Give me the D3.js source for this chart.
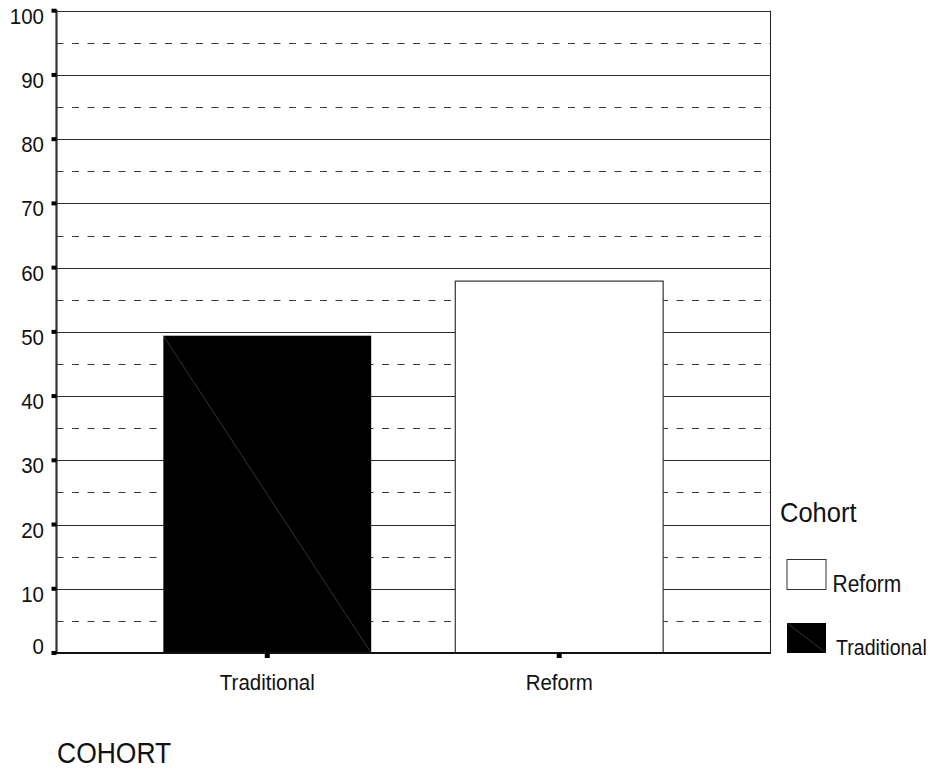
<!DOCTYPE html>
<html>
<head>
<meta charset="utf-8">
<script src="https://cdn.jsdelivr.net/npm/d3@7"></script>
<style>
  html, body { margin: 0; padding: 0; background: #fff; }
  svg { display: block; font-family: "Liberation Sans", Arial, sans-serif; }
</style>
</head>
<body>
<svg id="chart" width="934" height="770"></svg>
<script>
// ---- data ----
const categories = ["Traditional", "Reform"];
const values = [49.4, 57.9];
const majorTicks = [0, 10, 20, 30, 40, 50, 60, 70, 80, 90, 100];
const minorTicks = [5, 15, 25, 35, 45, 55, 65, 75, 85, 95];
const legendItems = ["Reform", "Traditional"];
const legendTitle = "Cohort";
const xTitle = "COHORT";

(function () {
// ---- layout ----
const svg = d3.select("#chart");
const pLeft = 56.5, pRight = 770, pTop = 10.7, pBottom = 653;

const y = d3.scaleLinear().domain([0, 100]).range([pBottom, pTop]);
const x = d3.scaleBand().domain(categories).range([pLeft, pRight])
  .paddingInner(0.288).paddingOuter(0.366);

const fill = d3.scaleOrdinal().domain(["Traditional", "Reform"]).range(["#000000", "#ffffff"]);

// dashed minor gridlines
svg.append("g").selectAll("line").data(minorTicks).join("line")
  .attr("x1", pLeft).attr("x2", pRight)
  .attr("y1", d => Math.round(y(d)) + 0.5).attr("y2", d => Math.round(y(d)) + 0.5)
  .attr("stroke", "#3a3a3a").attr("stroke-width", 1).attr("stroke-dasharray", "7,8.5");

// solid major gridlines
svg.append("g").selectAll("line").data(majorTicks.filter(d => d > 0)).join("line")
  .attr("x1", pLeft).attr("x2", pRight)
  .attr("y1", d => Math.round(y(d)) + 0.5).attr("y2", d => Math.round(y(d)) + 0.5)
  .attr("stroke", "#2a2a2a").attr("stroke-width", 1);

// right border
svg.append("line").attr("x1", pRight + 0.5).attr("x2", pRight + 0.5)
  .attr("y1", y(100)).attr("y2", y(0)).attr("stroke", "#222").attr("stroke-width", 1);

// bars
const bars = svg.append("g");
categories.forEach((c, i) => {
  const bx = x(c), bw = x.bandwidth(), by = y(values[i]), bh = y(0) - y(values[i]);
  bars.append("rect")
    .attr("x", bx).attr("y", by).attr("width", bw).attr("height", bh)
    .attr("fill", fill(c))
    .attr("stroke", c === "Reform" ? "#333" : "none").attr("stroke-width", 1.2);
  if (c === "Traditional") {
    bars.append("line")
      .attr("x1", bx).attr("y1", by).attr("x2", bx + bw).attr("y2", by + bh)
      .attr("stroke", "#555").attr("stroke-width", 0.6);
  }
});

// left axis line
svg.append("line").attr("x1", pLeft).attr("x2", pLeft)
  .attr("y1", y(100) - 1).attr("y2", y(0) + 1)
  .attr("stroke", "#333").attr("stroke-width", 2.2);
// bottom axis line
svg.append("line").attr("x1", pLeft).attr("x2", pRight + 1)
  .attr("y1", y(0)).attr("y2", y(0))
  .attr("stroke", "#111").attr("stroke-width", 2);

// y ticks (small squares)
svg.append("g").selectAll("rect").data(majorTicks).join("rect")
  .attr("x", pLeft - 5).attr("y", d => y(d) - 2).attr("width", 5).attr("height", 4)
  .attr("fill", "#000");

// y tick labels
svg.append("g").selectAll("text").data(majorTicks).join("text")
  .attr("transform", d => `translate(44,${Math.min(y(d) + 13, y(0) + 1)}) scale(1,1.12)`)
  .attr("text-anchor", "end").attr("font-size", 20.5).attr("fill", "#111")
  .text(d => d);

// x ticks
svg.append("g").selectAll("rect").data(categories).join("rect")
  .attr("x", d => x(d) + x.bandwidth() / 2 - 2.5).attr("y", y(0))
  .attr("width", 5).attr("height", 5).attr("fill", "#000");

// x tick labels
svg.append("g").selectAll("text").data(categories).join("text")
  .attr("transform", d => `translate(${x(d) + x.bandwidth() / 2},${y(0) + 36.5}) scale(1,1.12)`)
  .attr("text-anchor", "middle").attr("font-size", 20.5).attr("fill", "#111")
  .text(d => d);

// x title
svg.append("text")
  .attr("transform", "translate(57,763) scale(1,1.12)")
  .attr("font-size", 26.5).attr("fill", "#111").text(xTitle);

// legend
svg.append("text")
  .attr("transform", "translate(780,521.7) scale(1,1.1)")
  .attr("font-size", 25.5).attr("fill", "#111").text(legendTitle);

const lg = svg.append("g");
legendItems.forEach((name, i) => {
  const sy = 559.5 + i * 63.5;
  lg.append("rect").attr("x", 787).attr("y", sy).attr("width", 39).attr("height", 30)
    .attr("fill", fill(name)).attr("stroke", name === "Reform" ? "#333" : "none").attr("stroke-width", 1);
  if (name === "Traditional") {
    lg.append("line").attr("x1", 787).attr("y1", sy).attr("x2", 826).attr("y2", sy + 30)
      .attr("stroke", "#555").attr("stroke-width", 0.6);
  }
  lg.append("text")
    .attr("transform", `translate(${name === "Reform" ? 832.5 : 836},${sy + 32.2}) scale(1,1.12)`)
    .attr("font-size", name === "Reform" ? 21 : 19.6).attr("fill", "#111").text(name);
});
})();
</script>
</body>
</html>
